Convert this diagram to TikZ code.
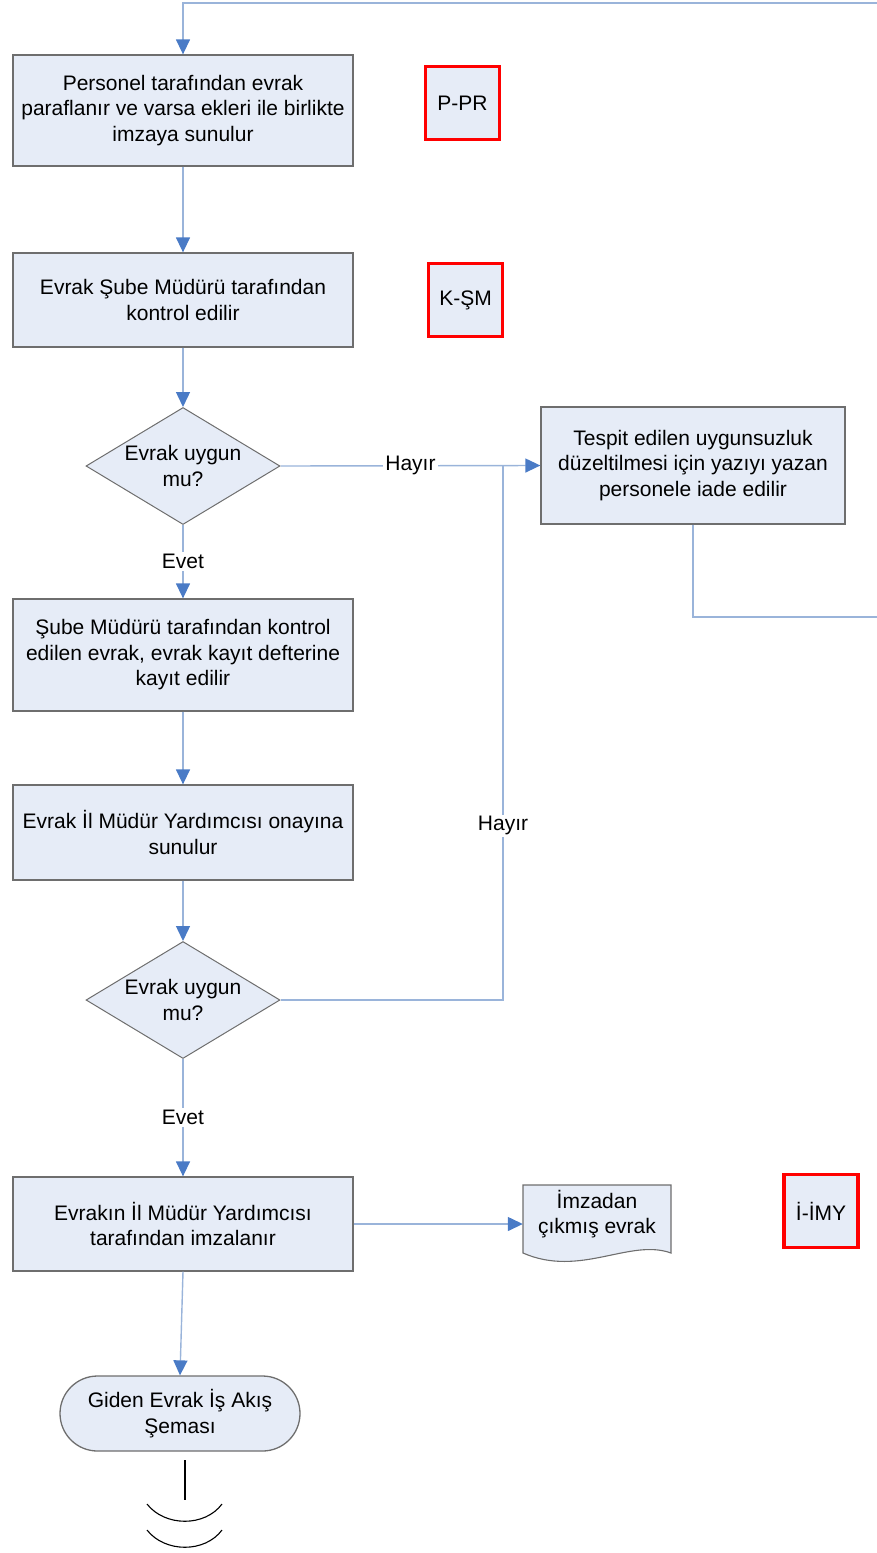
\documentclass[tikz,border=0pt]{standalone}
\usepackage{fontspec}
\setmainfont{Liberation Sans}
\usetikzlibrary{arrows.meta,shapes.geometric}
\definecolor{fillc}{HTML}{E6ECF7}
\definecolor{linec}{HTML}{9AB4DA}
\definecolor{arrc}{HTML}{4A7BC6}
\definecolor{bordc}{HTML}{6E6E6E}
\begin{document}
\begin{tikzpicture}[x=1pt,y=-1pt,
  every node/.style={font=\fontsize{21}{25.5}\selectfont, inner sep=0pt},
  procbox/.style={draw=bordc, line width=1.3pt, fill=fillc, minimum width=340pt, align=center},
  redbox/.style={draw=red, line width=3.4pt, fill=fillc, minimum width=74pt, minimum height=73pt},
  decbox/.style={diamond, draw=bordc, line width=1pt, fill=fillc, minimum width=194pt, minimum height=117pt},
  conn/.style={draw=linec, line width=1.4pt},
  arr/.style={conn, -{Triangle[width=14pt,length=15pt,color=arrc]}},
  lbl/.style={fill=white, inner sep=2pt}
]
\useasboundingbox (0,0) rectangle (876,1553);

% boxes
\node[procbox, minimum height=111pt] (b1) at (183,110.5) {Personel tarafından evrak\\paraflanır ve varsa ekleri ile birlikte\\imzaya sunulur};
\node[redbox] (ppr) at (462.5,103) {P-PR};
\node[procbox, minimum height=94pt] (b2) at (183,300) {Evrak Şube Müdürü tarafından\\kontrol edilir};
\node[redbox] (ksm) at (465.5,300) {K-ŞM};
\node[decbox] (d1) at (183,466) {};
\node (d1t) at (183,466) [align=center] {Evrak uygun\\mu?};
\node[procbox, minimum width=304pt, minimum height=117pt] (b3) at (693,465.5) {Tespit edilen uygunsuzluk\\düzeltilmesi için yazıyı yazan\\personele iade edilir};
\node[procbox, minimum height=112pt] (b4) at (183,655) {Şube Müdürü tarafından kontrol\\edilen evrak, evrak kayıt defterine\\kayıt edilir};
\node[procbox, minimum height=95pt] (b5) at (183,832.5) {Evrak İl Müdür Yardımcısı onayına\\sunulur};
\node[decbox] (d2) at (183,1000) {};
\node (d2t) at (183,1000) [align=center] {Evrak uygun\\mu?};
\node[procbox, minimum height=94pt] (b6) at (183,1224) {Evrakın İl Müdür Yardımcısı\\tarafından imzalanır};
\node[redbox] (imy) at (821,1211) {İ-İMY};
\node[draw=bordc, line width=1.3pt, fill=fillc, rounded corners=37.5pt, minimum width=240pt, minimum height=75pt, align=center] (term) at (180,1413.5) {Giden Evrak İş Akış\\Şeması};

% document shape
\draw[draw=bordc, line width=1.1pt, fill=fillc] (523,1185) -- (671,1185) -- (671,1253)
  .. controls (630,1238) and (580,1278) .. (523,1253) -- cycle;
\node[align=center, minimum width=148pt, minimum height=68pt] (doc) at (597,1214) {İmzadan\\çıkmış evrak};

% connectors
\coordinate (c1) at (693,617);
\coordinate (c2) at (880,617);
\coordinate (c3) at (880,3);
\coordinate (c4) at (183,3);
\draw[arr] (b3.south) -- (c1) -- (c2) -- (c3) -- (c4) -- (b1.north);
\draw[arr] (b1.south) -- (b2.north);
\draw[arr] (b2.south) -- (d1.north);
\draw[arr] (d1.east) -- node[lbl] (h1) {Hayır} (b3.west);
\draw[arr] (d1.south) -- node[lbl] (e1) {Evet} (b4.north);
\draw[arr] (b4.south) -- (b5.north);
\draw[arr] (b5.south) -- (d2.north);
\coordinate (j2) at (503,1000);
\coordinate (j1) at (503,466);
\draw[conn] (d2.east) -- (j2) -- node[lbl, pos=0.326] (h2) {Hayır} (j1);
\draw[arr] (d2.south) -- node[lbl] (e2) {Evet} (b6.north);
\draw[arr] (b6.east) -- (b6.east -| doc.west);
\draw[arr] (b6.south) -- (term.north);

% continuation mark
\draw[black, line width=1.1pt] (185,1460) -- (185,1500);
\draw[black, line width=1.1pt] (147,1504) .. controls (165,1527) and (205,1527) .. (222,1504);
\draw[black, line width=1.1pt] (147,1530) .. controls (165,1553) and (205,1553) .. (222,1530);
\end{tikzpicture}
\end{document}
